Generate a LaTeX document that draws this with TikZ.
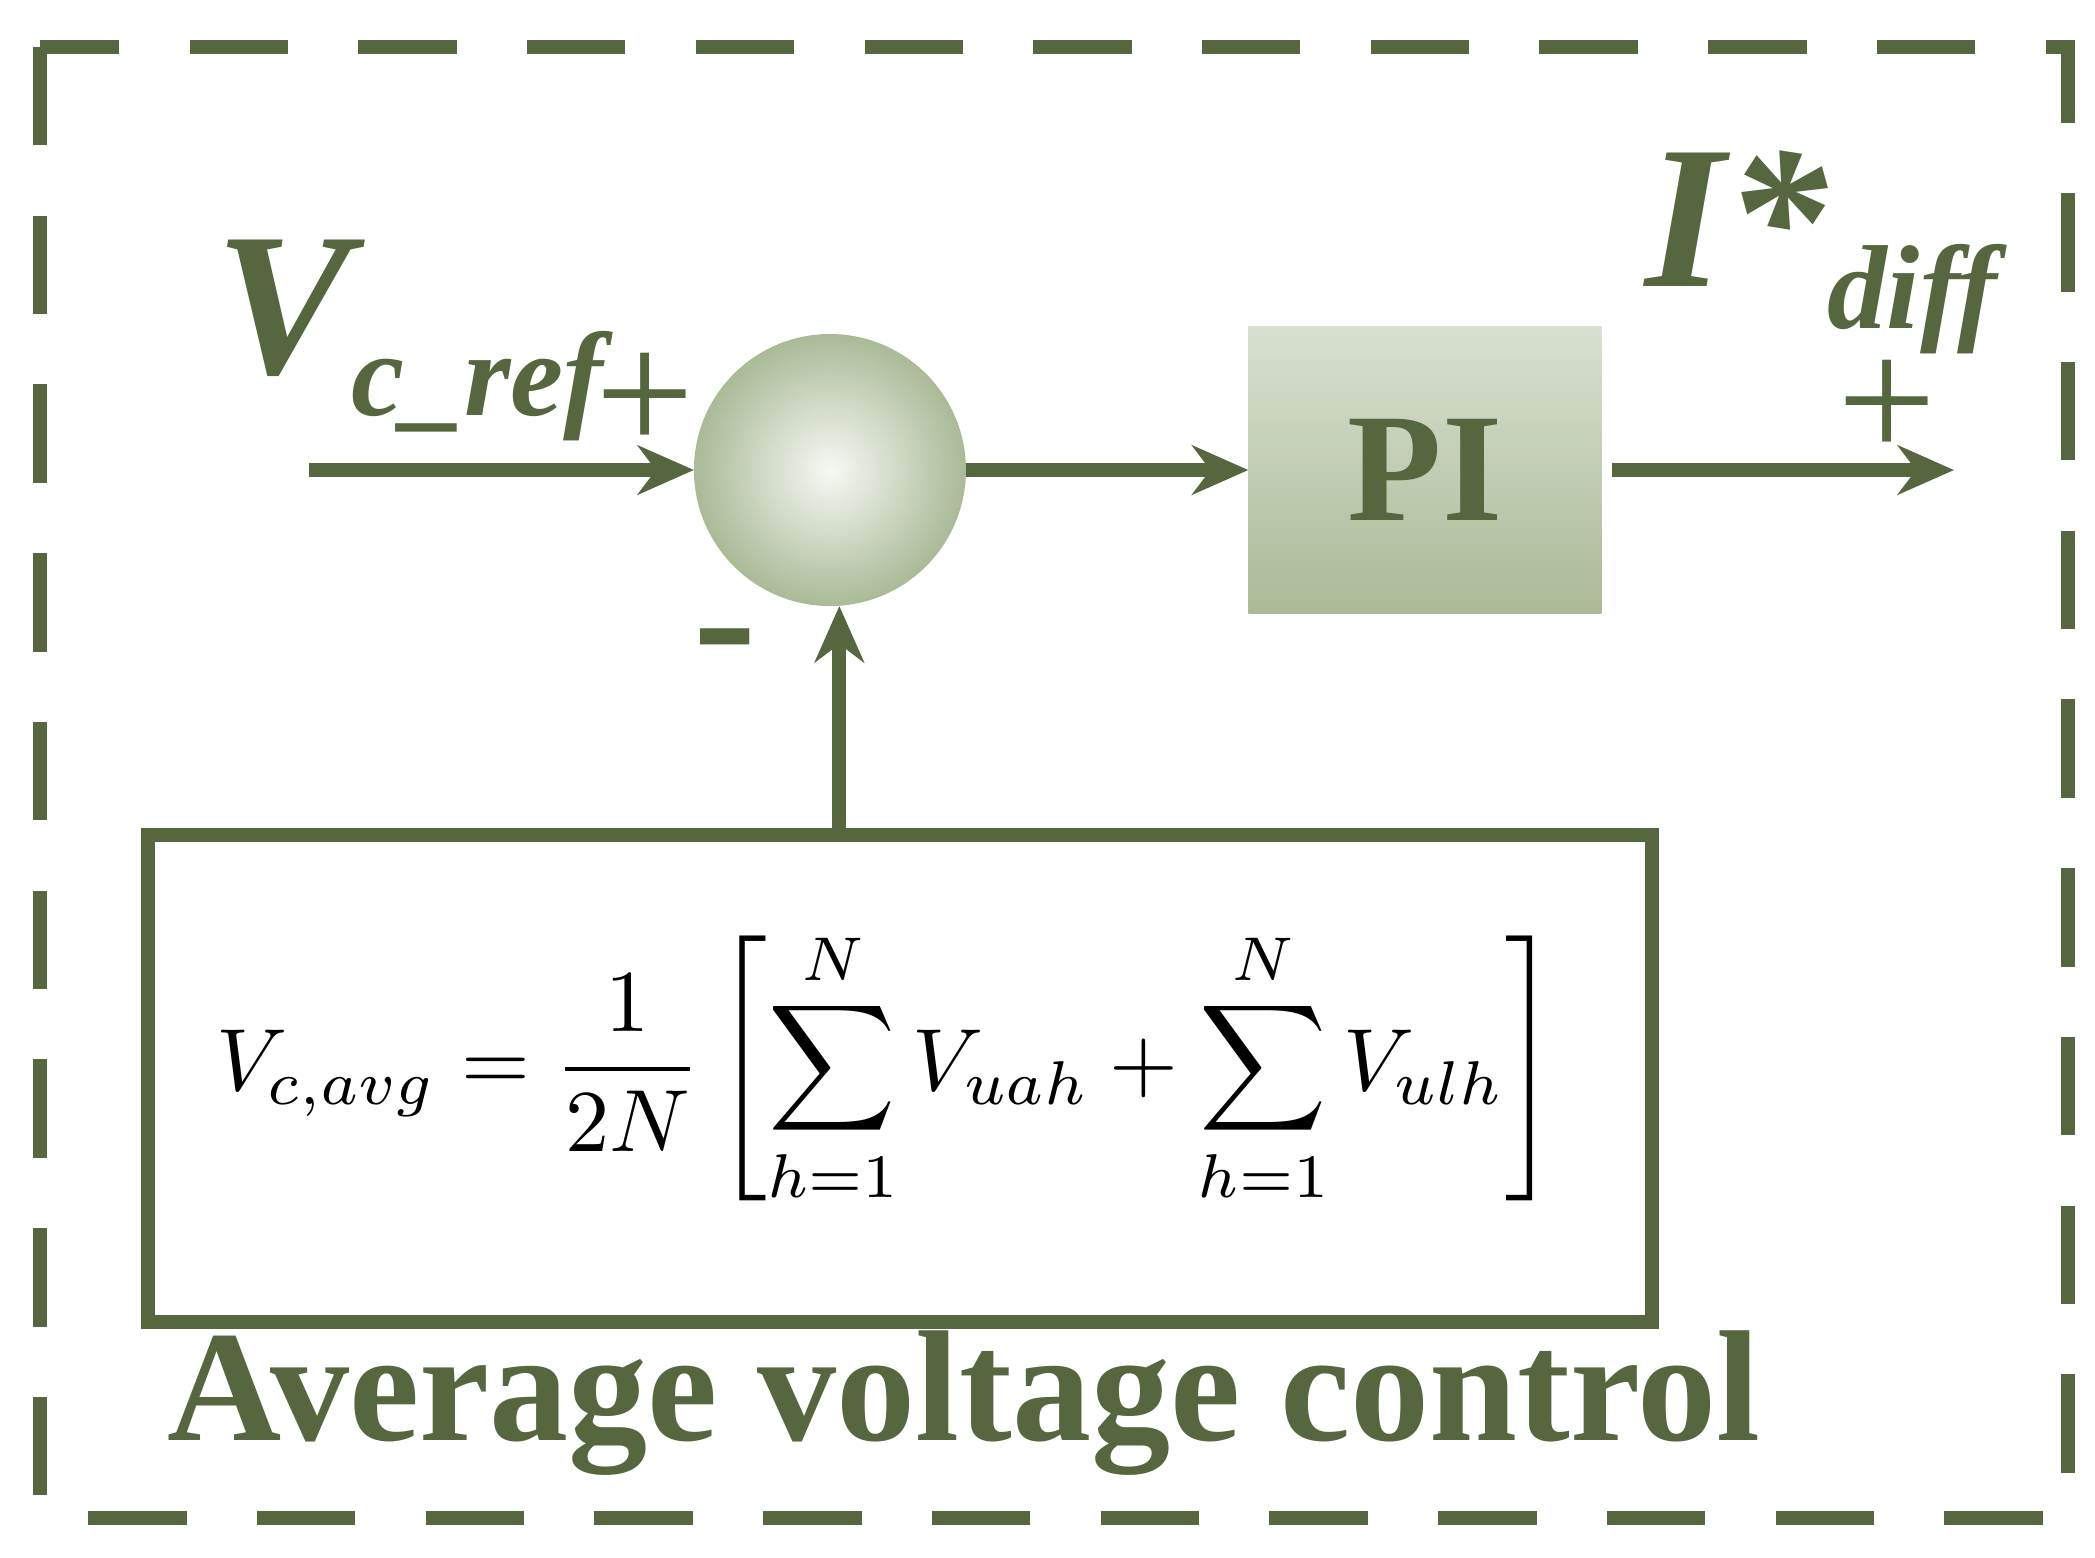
\documentclass[tikz,border=0pt]{standalone}
\usepackage{fontspec}
\usepackage{amsmath}
\setmainfont{Liberation Serif}
\usetikzlibrary{arrows.meta,calc}
\definecolor{olv}{RGB}{86,102,62}
\definecolor{lg}{RGB}{170,186,150}
\begin{document}
\begin{tikzpicture}[x=0.01343cm,y=-0.01343cm,
  ln/.style={olv,line width=4pt},
  arr/.style={ln,-{Stealth[length=16pt,width=14pt]}},
  lbl/.style={olv,font=\bfseries\itshape}]
\useasboundingbox (0,0) rectangle (1560,1160);
\draw[olv,line width=4pt,dash pattern=on 28pt off 20pt] (30,35) rectangle (1540,1130);
\node[circle,minimum size=2.72cm,inner sep=0,outer sep=0,inner color=white!90!lg,outer color=lg,shading=radial] (sum) at (618,350) {};
\node[rectangle,minimum width=3.53cm,minimum height=2.87cm,inner sep=0,outer sep=0,top color=white!55!lg,bottom color=lg] (pi) at (1061,350) {};
\node[olv,font=\bfseries\fontsize{44}{44}\selectfont] at (pi) {PI};
\coordinate (in) at (230,350);
\coordinate (out) at (1455,350);
\draw[arr] (in) -- (sum.west);
\draw[arr] (sum.east) -- (pi.west);
\draw[arr] (pi.east) ++(8,0) -- (out);
\node[draw=olv,line width=4pt,minimum width=15.04cm,minimum height=4.87cm,inner sep=0] (avg) at (670,803) {};
\draw[arr] ($(avg.north -| sum)+(7,0)$) -- ($(sum.south)+(7,0)$);
\node at (660,795) {\resizebox{13.4cm}{!}{$\displaystyle V_{c,avg}=\frac{1}{2N}\left[\sum_{h=1}^{N}V_{uah}+\sum_{h=1}^{N}V_{ulh}\right]$}};
\node[lbl,anchor=base west,inner sep=0,font=\bfseries\itshape\fontsize{58}{58}\selectfont] (vref) at (160,278) {V\fontsize{34}{34}\selectfont\raisebox{-12pt}{c\_ref}};
\node[lbl,anchor=base west,inner sep=0,font=\bfseries\itshape\fontsize{58}{58}\selectfont] (idiff) at (1225,213) {I*\fontsize{34}{34}\selectfont\raisebox{-12pt}{diff}};
\node[olv,font=\fontsize{50}{50}\selectfont] (p1) at (480,300) {+};
\node[olv,font=\bfseries\fontsize{54}{54}\selectfont] (m1) at (540,488) {-};
\node[olv,font=\fontsize{50}{50}\selectfont] (p2) at (1405,305) {+};
\node[olv,font=\bfseries\fontsize{45}{45}\selectfont] (title) at (718,1045) {Average voltage control};
\end{tikzpicture}
\end{document}
